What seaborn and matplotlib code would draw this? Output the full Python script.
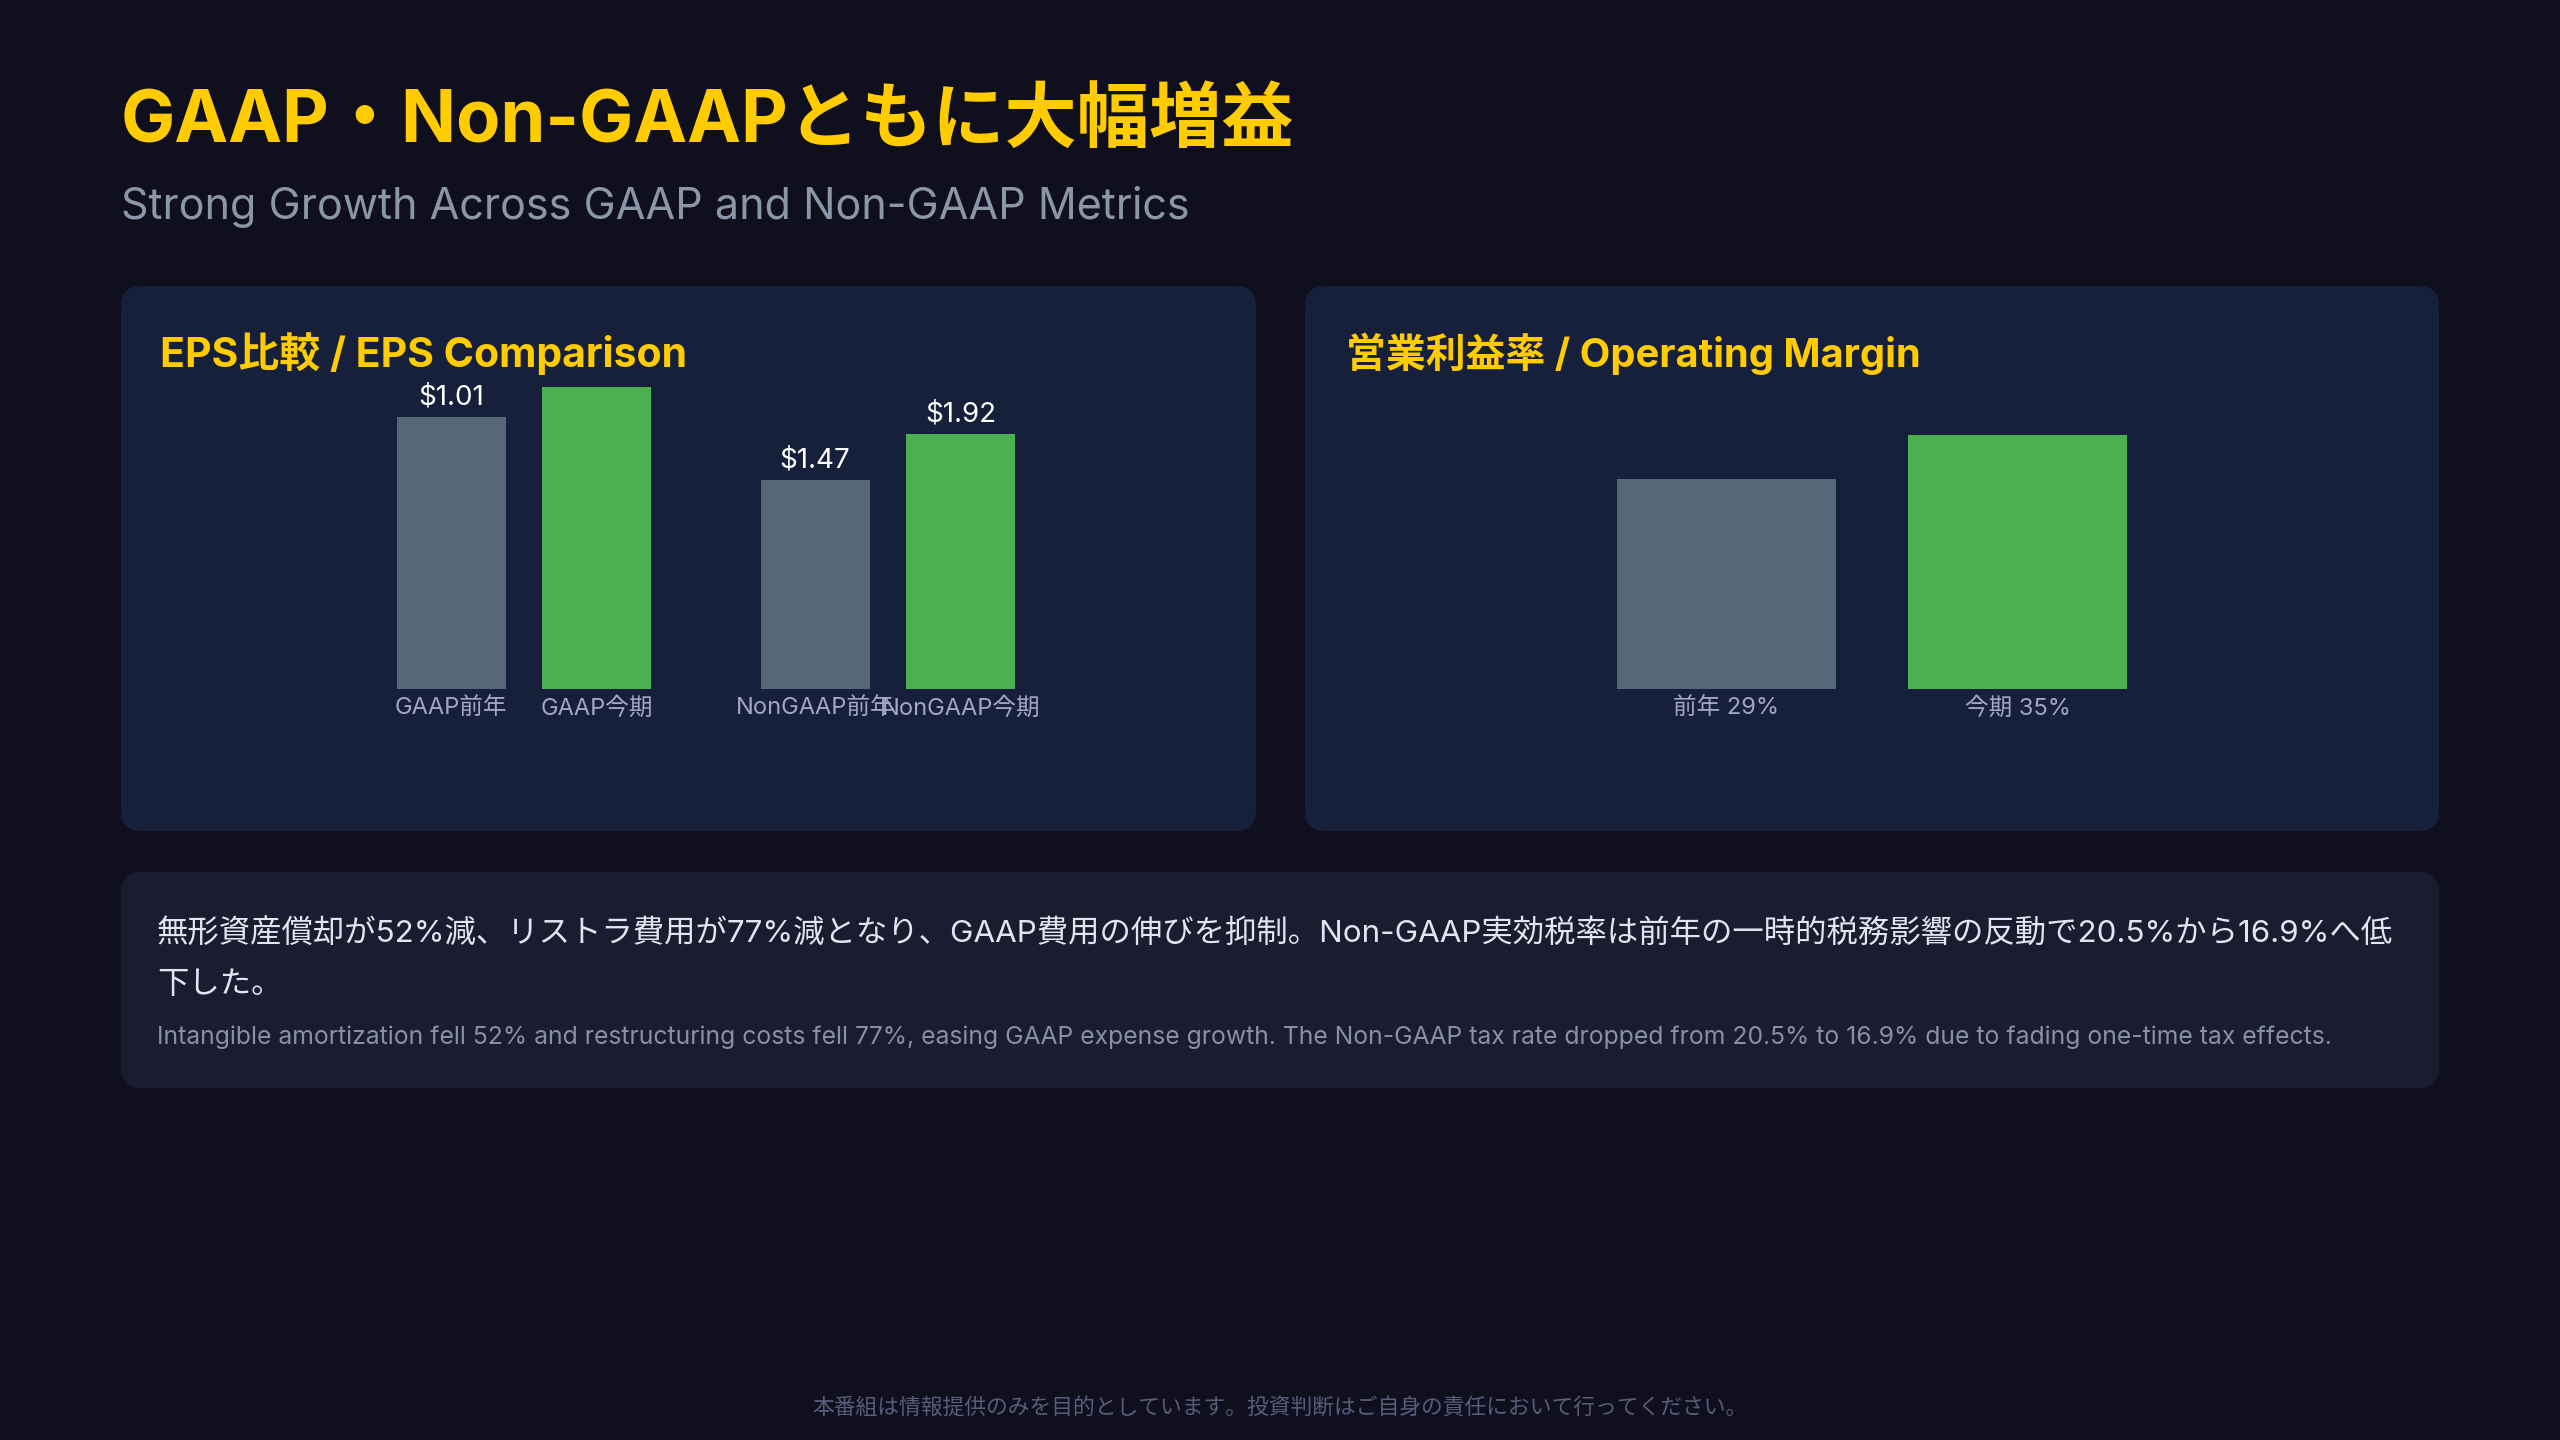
import pandas as pd
import matplotlib.pyplot as plt
import seaborn as sns
from matplotlib.patches import FancyBboxPatch

# data
eps_metric = ["GAAP", "GAAP", "NonGAAP", "NonGAAP"]
eps_period = ["前年", "今期", "前年", "今期"]
eps_value_text = ["$1.01", "$1.36", "$1.47", "$1.92"]
eps_bar_height = [87.9, 97.4, 67.4, 82.2]  # drawn height, % of chart area

margin_period = ["前年", "今期"]
margin_value = [29, 35]

TITLE = "GAAP・Non-GAAPともに大幅増益"
SUBTITLE = "Strong Growth Across GAAP and Non-GAAP Metrics"
EPS_TITLE = "EPS比較 / EPS Comparison"
MARGIN_TITLE = "営業利益率 / Operating Margin"
NOTE_JA = ["無形資産償却が52%減、リストラ費用が77%減となり、GAAP費用の伸びを抑制。"
           "Non-GAAP実効税率は前年の一時的税務影響の反動で20.5%から16.9%へ低",
           "下した。"]
NOTE_EN = ("Intangible amortization fell 52% and restructuring costs fell 77%, easing GAAP "
           "expense growth. The Non-GAAP tax rate dropped from 20.5% to 16.9% due to fading "
           "one-time tax effects.")
FOOTER = "本番組は情報提供のみを目的としています。投資判断はご自身の責任において行ってください。"

BG = "#0f0f1e"
PANEL = "#16203b"
NOTE_PANEL = "#1b1c30"
YELLOW = "#ffcc00"
GRAY = "#566878"
GREEN = "#4caf50"
TICK = "#a3a6c6"

W, H = 2560, 1440

sns.set_style("white")
plt.rcParams['font.family'] = ['Inter', 'Noto Sans CJK JP', 'DejaVu Sans']


def px_rect(x0, y0, x1, y1):
    return [x0 / W, 1 - y1 / H, (x1 - x0) / W, (y1 - y0) / H]


def style_axes(ax):
    ax.set_facecolor("none")
    sns.despine(ax=ax, left=True, bottom=True)
    ax.set_yticks([])
    ax.set_xlabel("")
    ax.set_ylabel("")
    ax.tick_params(axis="x", length=0, pad=6, labelsize=17, labelcolor=TICK)


fig = plt.figure(figsize=(W / 100, H / 100), dpi=100, facecolor=BG)

# background layer in pixel coordinates
bg = fig.add_axes([0, 0, 1, 1])
bg.set_xlim(0, W)
bg.set_ylim(H, 0)
bg.axis("off")
bg.set_facecolor(BG)

for x0, y0, x1, y1, c in [(121, 286, 1256, 831, PANEL),
                          (1305, 286, 2439, 831, PANEL),
                          (121, 872, 2439, 1088, NOTE_PANEL)]:
    bg.add_patch(FancyBboxPatch((x0, y0), x1 - x0, y1 - y0,
                                boxstyle="round,pad=0,rounding_size=20",
                                facecolor=c, edgecolor="none"))

bg.text(121, 142, TITLE, fontsize=52, fontweight="bold", color=YELLOW, va="baseline")
bg.text(121, 219, SUBTITLE, fontsize=31, color="#8b96a9", va="baseline")
bg.text(160, 367, EPS_TITLE, fontsize=29.5, fontweight="bold", color=YELLOW, va="baseline")
bg.text(1346, 367, MARGIN_TITLE, fontsize=28.7, fontweight="bold", color=YELLOW, va="baseline")
bg.text(157, 943, NOTE_JA[0], fontsize=22.6, color="#e2e4f0", va="baseline")
bg.text(157, 993, NOTE_JA[1], fontsize=22.6, color="#e2e4f0", va="baseline")
bg.text(157, 1044, NOTE_EN, fontsize=17.8, color="#8791a5", va="baseline")
bg.text(W / 2, 1414, FOOTER, fontsize=15.7, color="#5a5b7a", ha="center", va="baseline")

# EPS comparison
eps_df = pd.DataFrame({"metric": eps_metric, "period": eps_period,
                       "height": eps_bar_height, "label": eps_value_text})
ax1 = fig.add_axes(px_rect(121, 379, 1256, 689))
sns.barplot(data=eps_df, x="metric", y="height", hue="period",
            hue_order=["前年", "今期"], palette={"前年": GRAY, "今期": GREEN},
            width=0.8, gap=0.25, linewidth=0, saturation=1, legend=False, ax=ax1)
ax1.set_xlim(-1.107, 2.011)
ax1.set_ylim(0, 100)

ticks = []
for cont, period in zip(ax1.containers, ["前年", "今期"]):
    sub = eps_df[eps_df["period"] == period]
    # the tallest label runs past the chart box and gets clipped, as in the reference
    ax1.bar_label(cont, labels=list(sub["label"]), padding=4.5, fontsize=20,
                  color="white", clip_on=True)
    for bar, m in zip(cont, sub["metric"]):
        ticks.append((bar.get_x() + bar.get_width() / 2, m + period))
ticks.sort()
ax1.set_xticks([t[0] for t in ticks])
ax1.set_xticklabels([t[1] for t in ticks])
style_axes(ax1)

# operating margin
ax2 = fig.add_axes(px_rect(1305, 379, 2439, 689))
sns.barplot(x=margin_period, y=margin_value, hue=margin_period,
            palette=[GRAY, GREEN], width=0.75, linewidth=0, saturation=1,
            legend=False, ax=ax2)
ax2.set_xlim(-1.445, 2.445)
ax2.set_ylim(0, 42.8)
ax2.set_xticks(range(len(margin_period)))
ax2.set_xticklabels([f"{p} {v}%" for p, v in zip(margin_period, margin_value)])
style_axes(ax2)

fig.savefig("out.png", dpi=100, facecolor=BG)
